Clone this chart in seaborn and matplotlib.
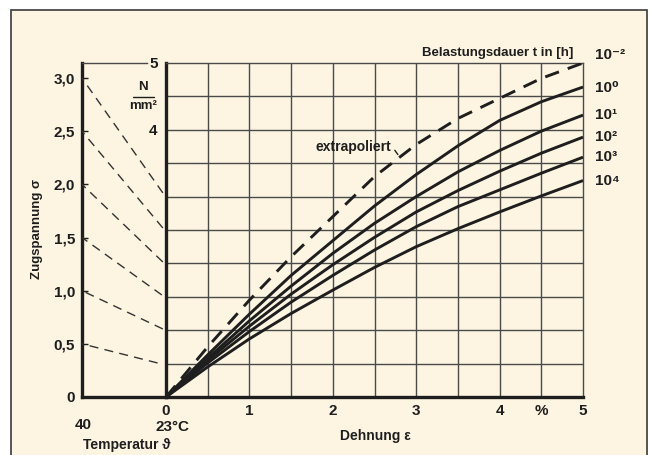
import numpy as np
import pandas as pd
import matplotlib
matplotlib.use("Agg")
import matplotlib.pyplot as plt
import seaborn as sns
from matplotlib.patches import Rectangle
from matplotlib.lines import Line2D

# ---------------- data ----------------
strain = [0, 0.5, 1, 1.5, 2, 2.5, 3, 3.5, 4, 4.5, 5]
sigma_t_m2 = [0, 0.75, 1.45, 2.10, 2.70, 3.30, 3.78, 4.17, 4.47, 4.77, 5.00]   # extrapoliert
sigma_t_0 = [0, 0.63, 1.24, 1.82, 2.34, 2.86, 3.33, 3.76, 4.14, 4.42, 4.64]
sigma_t_1 = [0, 0.58, 1.14, 1.66, 2.15, 2.60, 3.00, 3.37, 3.69, 3.98, 4.22]
sigma_t_2 = [0, 0.55, 1.06, 1.54, 1.98, 2.39, 2.77, 3.09, 3.38, 3.65, 3.89]
sigma_t_3 = [0, 0.51, 0.98, 1.42, 1.82, 2.20, 2.55, 2.85, 3.10, 3.35, 3.59]
sigma_t_4 = [0, 0.45, 0.87, 1.25, 1.60, 1.94, 2.25, 2.52, 2.77, 3.01, 3.24]
duration_labels = ["10\u207b\u00b2", "10\u2070", "10\u00b9", "10\u00b2", "10\u00b3", "10\u2074"]

temp_start = [40, 40, 40, 40, 40, 40]
temp_end = [1.5, 1.5, 1.5, 2, 1.5, 4]
sigma_at_40 = [3.0, 2.5, 2.0, 1.5, 1.0, 0.5]
sigma_at_end = [1.92, 1.59, 1.27, 0.96, 0.64, 0.32]

left_ticks = [0, 0.5, 1.0, 1.5, 2.0, 2.5, 3.0]
left_ticklabels = ["0", "0,5", "1,0", "1,5", "2,0", "2,5", "3,0"]
x_ticks = [0, 1, 2, 3, 4, 4.5, 5]
x_ticklabels = ["0", "1", "2", "3", "4", "%", "5"]

# ---------------- style ----------------
sns.set_style("white")
FONT = ["Liberation Sans Narrow", "Liberation Sans", "DejaVu Sans"]
plt.rcParams["font.family"] = FONT
plt.rcParams["font.weight"] = "bold"
INK = "#1e1e1e"
GRID = "#4a4a4a"
BG = "#fdf5e2"

W, H = 654, 455
fig = plt.figure(figsize=(W / 100, H / 100), dpi=100, facecolor="white")


def fx(px):
    return px / W


def fy(py):
    return 1 - py / H


# cream panel with frame
fig.patches.append(Rectangle((fx(11), -0.1), fx(636), fy(10) + 0.1, transform=fig.transFigure,
                             facecolor=BG, edgecolor="#3a3a3a", lw=1.2, zorder=-10))

x0, x1, y0, y1 = 166, 583, 397, 63
ax = fig.add_axes([fx(x0), fy(y0), fx(x1 - x0), fy(y1) - fy(y0)])
axl = fig.add_axes([fx(82), fy(y0), fx(x0 - 82), fy(y1) - fy(y0)])
for a in (ax, axl):
    a.set_facecolor("none")
    a.patch.set_alpha(0)

# ---------------- main panel ----------------
series = [sigma_t_m2, sigma_t_0, sigma_t_1, sigma_t_2, sigma_t_3, sigma_t_4]
for i, s in enumerate(series):
    df = pd.DataFrame({"strain": strain, "sigma": s})
    sns.lineplot(data=df, x="strain", y="sigma", ax=ax, color=INK, lw=2.1,
                 sort=False, solid_capstyle="butt", solid_joinstyle="round", zorder=3)
    if i == 0:
        ax.lines[-1].set_dashes((5, 3.2))

ax.set_xlim(0, 5)
ax.set_ylim(0, 5)
ax.set_yticks(np.arange(0, 5.01, 0.5))
ax.set_yticklabels(["" if v not in (4.0, 5.0) else str(int(v)) for v in np.arange(0, 5.01, 0.5)])
ax.set_xticks(x_ticks)
ax.set_xticklabels(x_ticklabels)
ax.grid(False)
for v in np.arange(0.5, 5.0, 0.5):
    ax.axvline(v, color=GRID, lw=1.0, zorder=1)
    ax.axhline(v, color=GRID, lw=1.0, zorder=1)
ax.tick_params(axis="both", which="both", length=0, labelsize=11, colors=INK)
ax.tick_params(axis="x", pad=5)
ax.tick_params(axis="y", pad=6)
ax.set_xlabel("")
ax.set_ylabel("")
for side in ("left", "bottom"):
    ax.spines[side].set_linewidth(2.4)
    ax.spines[side].set_color(INK)
for side in ("top", "right"):
    ax.spines[side].set_linewidth(1.0)
    ax.spines[side].set_color(GRID)
    ax.spines[side].set_visible(True)

ax.annotate("extrapoliert", xy=(2.78, 3.63), xytext=(2.25, 3.74), textcoords="data",
            ha="center", va="center", fontsize=10, color=INK,
            arrowprops=dict(arrowstyle="-", color=INK, lw=1.0, shrinkA=0, shrinkB=0,
                            relpos=(1.0, 0.6)))

# ---------------- left panel ----------------
for ts, te, sa, se in zip(temp_start, temp_end, sigma_at_40, sigma_at_end):
    sns.lineplot(x=[ts, te], y=[sa, se], ax=axl, color="#333333", lw=1.0, zorder=3)
    axl.lines[-1].set_dashes((6.5, 4.5))

axl.set_xlim(40, 0)
axl.set_ylim(0, (y0 - y1) / 106.3)
axl.set_yticks(left_ticks)
axl.set_yticklabels(left_ticklabels)
axl.set_xticks([])
axl.tick_params(axis="y", direction="in", length=4.5, width=1.0, colors=INK,
                labelsize=11, pad=5, left=True)
axl.set_xlabel("")
axl.set_ylabel("")
axl.spines["right"].set_visible(False)
axl.spines["left"].set_linewidth(2.4)
axl.spines["left"].set_color(INK)
axl.spines["bottom"].set_linewidth(2.4)
axl.spines["bottom"].set_color(INK)
axl.spines["top"].set_linewidth(1.0)
axl.spines["top"].set_color(GRID)
axl.spines["top"].set_bounds(40, 9.0)

# ---------------- texts ----------------
fig.text(fx(83), fy(425), "40", ha="center", va="center", fontsize=11, color=INK)
fig.text(fx(173), fy(427), "23\u00b0C", ha="center", va="center", fontsize=11, color=INK)
fig.text(fx(127), fy(445), "Temperatur \u03d1", ha="center", va="center", fontsize=10, color=INK)
fig.text(fx(375), fy(436), "Dehnung \u03b5", ha="center", va="center", fontsize=10, color=INK)
fig.text(fx(37), fy(229), "Zugspannung \u03c3", ha="center", va="center", rotation=90,
         fontsize=9.5, color=INK)
fig.text(fx(573), fy(53), "Belastungsdauer t in [h]", ha="right", va="center", fontsize=9.5, color=INK)

fig.text(fx(143), fy(87), "N", ha="center", va="center", fontsize=9.5, color=INK)
fig.lines.append(Line2D([fx(133), fx(154)], [fy(97), fy(97)], transform=fig.transFigure,
                        color=INK, lw=1.0))
fig.text(fx(143), fy(106), "mm\u00b2", ha="center", va="center", fontsize=9.5, color=INK)

label_y = [55, 88, 115, 137, 157, 181]
for lab, py in zip(duration_labels, label_y):
    fig.text(fx(595), fy(py), lab, ha="left", va="center", fontsize=11, color=INK)

fig.savefig("out.png", dpi=100, facecolor="white")
